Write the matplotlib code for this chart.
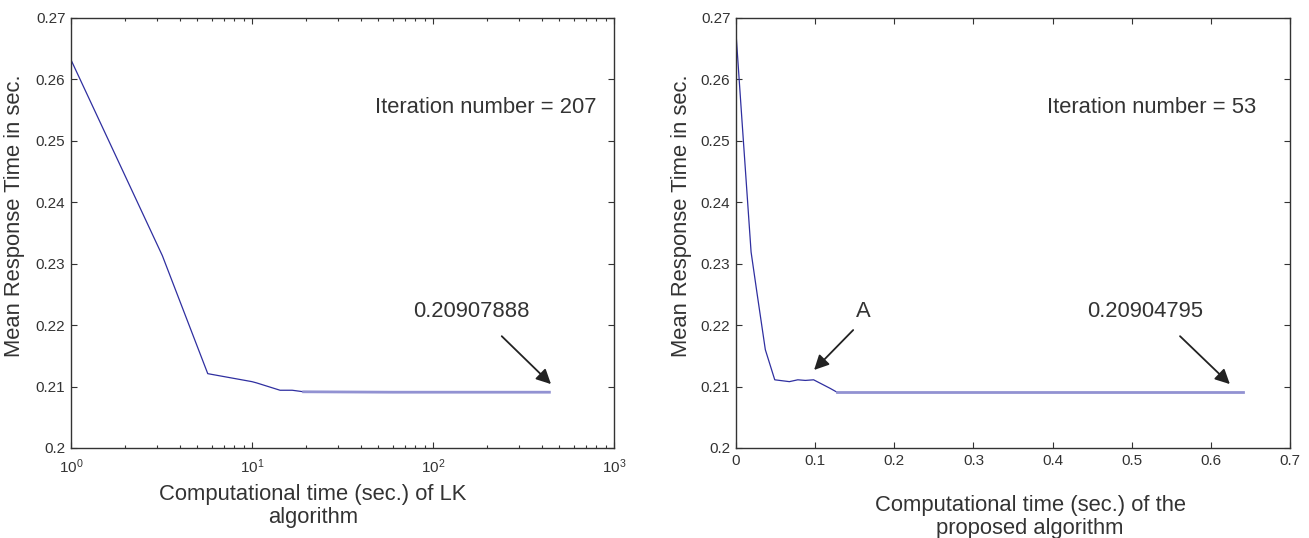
import matplotlib
matplotlib.use("Agg")
import matplotlib.pyplot as plt
from matplotlib.ticker import FormatStrFormatter, FixedLocator, LogLocator

plt.rcParams["font.family"] = ["Liberation Sans", "DejaVu Sans"]
plt.rcParams["mathtext.fontset"] = "custom"
plt.rcParams["mathtext.rm"] = "Liberation Sans"

# LK algorithm: computational time (log) vs mean response time
lk_time = [1, 3.2, 5.7, 10.0, 10.6, 14.3, 16.7, 19.3, 60, 150, 440]
lk_mrt = [0.2632, 0.2313, 0.2121, 0.2108, 0.2106, 0.2094, 0.2094, 0.20915,
          0.20908, 0.20908, 0.20908]
lk_flat = 7  # index where the curve settles

# proposed algorithm
pa_time = [0, 0.0076, 0.019, 0.0265, 0.037, 0.0489, 0.0674, 0.078, 0.0876,
           0.098, 0.119, 0.128, 0.3, 0.5, 0.64]
pa_mrt = [0.2674, 0.2531, 0.2319, 0.2252, 0.2160, 0.2111, 0.2108, 0.2111,
          0.2110, 0.2111, 0.2097, 0.20905, 0.20905, 0.20905, 0.20905]
pa_flat = 11

yticks = [0.2, 0.21, 0.22, 0.23, 0.24, 0.25, 0.26, 0.27]
pa_xticks = [0, 0.1, 0.2, 0.3, 0.4, 0.5, 0.6, 0.7]

line_col = "#2f2fa0"
tail_col = "#9292d2"
txt_col = "#333333"
big = 15.8

fig = plt.figure(figsize=(13.09, 5.38), dpi=100)
ax1 = fig.add_axes([0.0542, 0.1673, 0.4148, 0.7993])
ax2 = fig.add_axes([0.5623, 0.1673, 0.4232, 0.7993])


def style(ax):
    for s in ax.spines.values():
        s.set_color("#333333")
        s.set_linewidth(1.0)
    ax.tick_params(which="both", direction="in", top=True, right=True,
                   colors="#333333", labelsize=11, labelcolor=txt_col)
    ax.tick_params(which="major", length=4, width=0.8, pad=4)
    ax.tick_params(which="minor", length=2.5, width=0.8)
    ax.set_ylim(0.2, 0.27)
    ax.yaxis.set_major_locator(FixedLocator(yticks))
    ax.yaxis.set_major_formatter(FormatStrFormatter("%g"))


arrow = dict(arrowstyle="-|>", color="#222222", lw=1.3,
             mutation_scale=22, shrinkA=0, shrinkB=0)

# left panel
ax1.plot(lk_time[:lk_flat + 1], lk_mrt[:lk_flat + 1], color=line_col, lw=0.9)
ax1.plot(lk_time[lk_flat:], lk_mrt[lk_flat:], color=tail_col, lw=2.0)
ax1.set_xscale("log")
ax1.set_xlim(1, 1000)
ax1.xaxis.set_major_locator(LogLocator(base=10, numticks=10))
ax1.xaxis.set_minor_locator(LogLocator(base=10, subs=range(2, 10), numticks=10))
style(ax1)
ax1.tick_params(axis="x", which="major", pad=7)
ax1.text(197, 0.2554, "Iteration number = 207", fontsize=big, color=txt_col,
         ha="center", va="center")
ax1.text(164, 0.2222, "0.20907888", fontsize=big, color=txt_col,
         ha="center", va="center")
ax1.annotate("", xy=(449, 0.2104), xytext=(240, 0.2182), arrowprops=arrow)
ax1.text(0.446, -0.135, "Computational time (sec.) of LK\nalgorithm",
         transform=ax1.transAxes, fontsize=big, color=txt_col,
         ha="center", va="center", linespacing=1.15)
ax1.set_ylabel("Mean Response Time in sec.", fontsize=big, color=txt_col)
ax1.yaxis.set_label_coords(-0.084, 0.5 + 17 / 430)

# right panel
ax2.plot(pa_time[:pa_flat + 1], pa_mrt[:pa_flat + 1], color=line_col, lw=0.9)
ax2.plot(pa_time[pa_flat:], pa_mrt[pa_flat:], color=tail_col, lw=2.0)
ax2.set_xlim(0, 0.7)
ax2.xaxis.set_major_locator(FixedLocator(pa_xticks))
ax2.xaxis.set_major_formatter(FormatStrFormatter("%g"))
style(ax2)
ax2.text(0.525, 0.2554, "Iteration number = 53", fontsize=big, color=txt_col,
         ha="center", va="center")
ax2.text(0.1605, 0.2222, "A", fontsize=big, color=txt_col,
         ha="center", va="center")
ax2.annotate("", xy=(0.0986, 0.2127), xytext=(0.148, 0.2192), arrowprops=arrow)
ax2.text(0.517, 0.2222, "0.20904795", fontsize=big, color=txt_col,
         ha="center", va="center")
ax2.annotate("", xy=(0.624, 0.2104), xytext=(0.561, 0.2182), arrowprops=arrow)
ax2.text(0.531, -0.16, "Computational time (sec.) of the\nproposed algorithm",
         transform=ax2.transAxes, fontsize=big, color=txt_col,
         ha="center", va="center", linespacing=1.15)
ax2.set_ylabel("Mean Response Time in sec.", fontsize=big, color=txt_col)
ax2.yaxis.set_label_coords(-0.080, 0.5 + 17 / 430)

fig.savefig("out.png", dpi=100)
